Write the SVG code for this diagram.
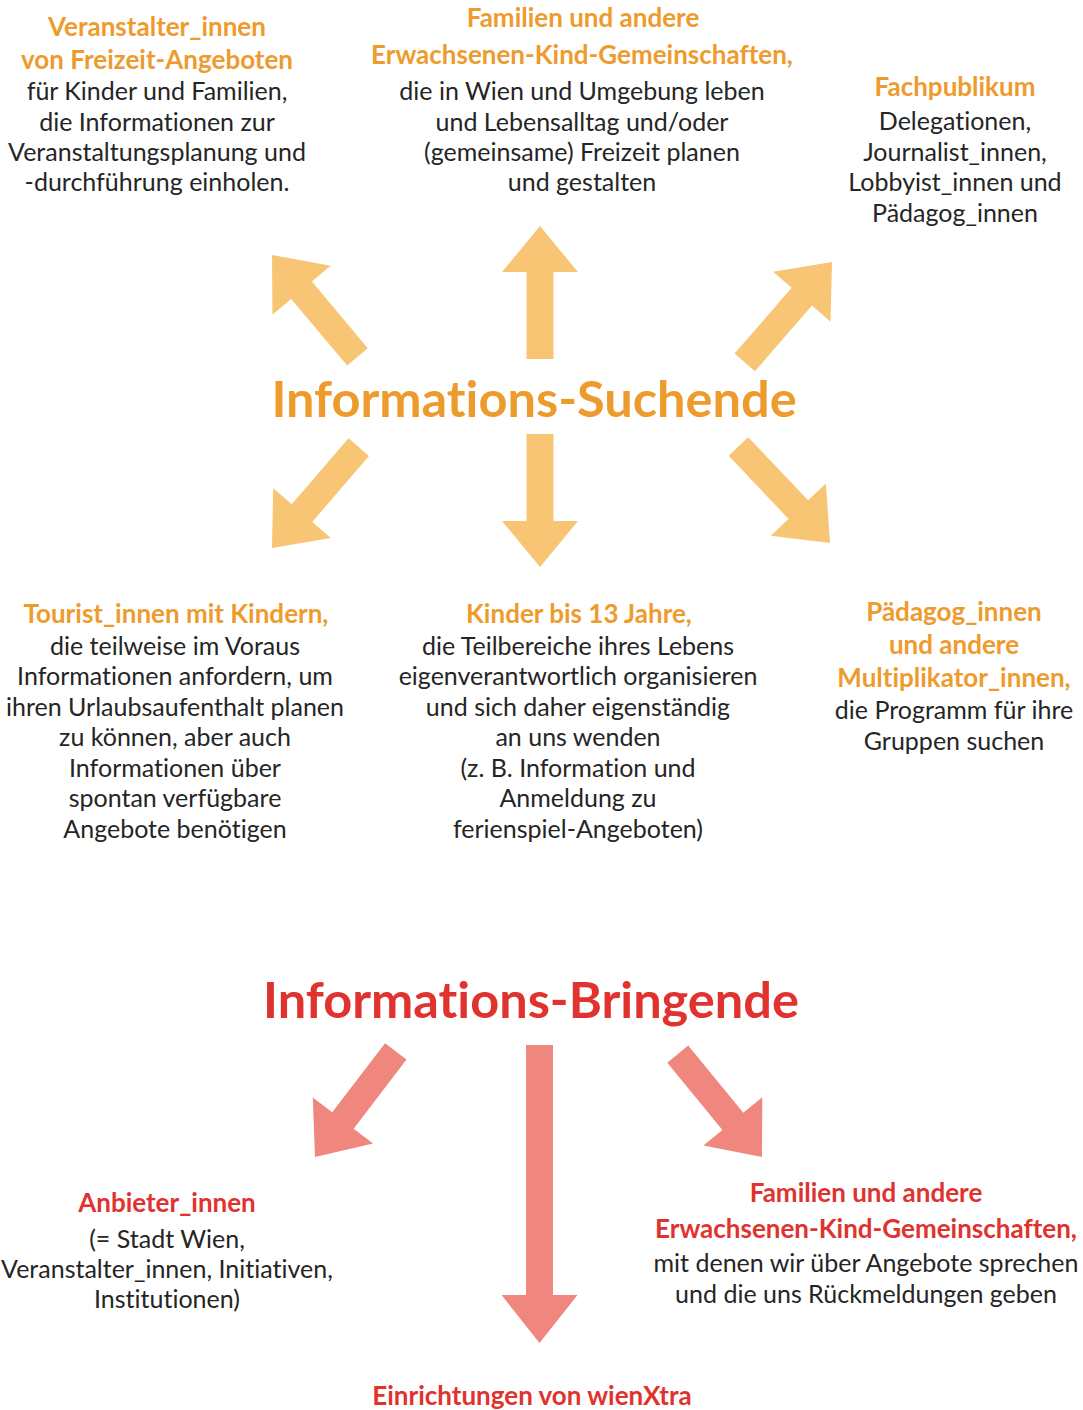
<svg xmlns="http://www.w3.org/2000/svg" xmlns:xlink="http://www.w3.org/1999/xlink" width="1083" height="1410" viewBox="0 0 1083 1410">
  <style>
    text { font-family: Lato, "Noto Sans", "Liberation Sans", sans-serif; text-anchor: middle; font-variant-ligatures: none; font-feature-settings: "liga" 0, "clig" 0; }
    .h { font-weight: bold; font-size: 26px; fill: #EE9B2E; }
    .hr { font-weight: bold; font-size: 26px; fill: #E0322E; }
    .b { font-size: 25px; fill: #252525; }
    .t { font-weight: bold; font-size: 50.5px; fill: #EE9B2E; }
    .tr { font-weight: bold; font-size: 50.5px; fill: #E0322E; }
    .ao { fill: #F8C575; }
    .ar { fill: #F0877F; }
  </style>
  <defs>
    <path id="arr" d="M0,0 L38,46 L13.5,46 L13.5,133 L-13.5,133 L-13.5,46 L-38,46 Z"/>
    <path id="arrLong" d="M0,0 L38,48 L13.5,48 L13.5,298 L-13.5,298 L-13.5,48 L-38,48 Z"/>
  </defs>
  <rect width="1083" height="1410" fill="#ffffff"/>

  <g id="connectors">
    <use xlink:href="#arr" class="ao" transform="translate(272,255) rotate(-40)"/>
    <use xlink:href="#arr" class="ao" transform="translate(540,226)"/>
    <use xlink:href="#arr" class="ao" transform="translate(832,262) rotate(41)"/>
    <use xlink:href="#arr" class="ao" transform="translate(272,548) rotate(-139.3)"/>
    <use xlink:href="#arr" class="ao" transform="translate(540,567) rotate(180)"/>
    <use xlink:href="#arr" class="ao" transform="translate(830,543) rotate(136.5)"/>
    <use xlink:href="#arr" class="ar" transform="translate(315,1157) rotate(-142.6)"/>
    <use xlink:href="#arrLong" class="ar" transform="translate(539.5,1343) rotate(180)"/>
    <use xlink:href="#arr" class="ar" transform="translate(762,1157) rotate(140.7)"/>
  </g>

  <g id="title-suchende">
    <text class="t" x="534" y="417">Informations-Suchende</text>
  </g>

  <g id="node-veranstalter">
    <text class="h" x="157" y="36">Veranstalter_innen</text>
    <text class="h" x="157" y="69">von Freizeit-Angeboten</text>
    <text class="b" x="157" y="100">für Kinder und Familien,</text>
    <text class="b" x="157" y="131">die Informationen zur</text>
    <text class="b" x="157" y="161">Veranstaltungsplanung und</text>
    <text class="b" x="157" y="191">-durchführung einholen.</text>
  </g>

  <g id="node-familien-top">
    <text class="h" x="583" y="27">Familien und andere</text>
    <text class="h" x="582" y="64">Erwachsenen-Kind-Gemeinschaften,</text>
    <text class="b" x="582" y="100">die in Wien und Umgebung leben</text>
    <text class="b" x="582" y="131">und Lebensalltag und/oder</text>
    <text class="b" x="582" y="161">(gemeinsame) Freizeit planen</text>
    <text class="b" x="582" y="191">und gestalten</text>
  </g>

  <g id="node-fachpublikum">
    <text class="h" x="955" y="96">Fachpublikum</text>
    <text class="b" x="955" y="130">Delegationen,</text>
    <text class="b" x="955" y="161">Journalist_innen,</text>
    <text class="b" x="955" y="191">Lobbyist_innen und</text>
    <text class="b" x="955" y="222">Pädagog_innen</text>
  </g>

  <g id="node-touristen">
    <text class="h" x="176" y="623">Tourist_innen mit Kindern,</text>
    <text class="b" x="175" y="655">die teilweise im Voraus</text>
    <text class="b" x="175" y="685">Informationen anfordern, um</text>
    <text class="b" x="175" y="716">ihren Urlaubsaufenthalt planen</text>
    <text class="b" x="175" y="746">zu können, aber auch</text>
    <text class="b" x="175" y="777">Informationen über</text>
    <text class="b" x="175" y="807">spontan verfügbare</text>
    <text class="b" x="175" y="838">Angebote benötigen</text>
  </g>

  <g id="node-kinder">
    <text class="h" x="579" y="623">Kinder bis 13 Jahre,</text>
    <text class="b" x="578" y="655">die Teilbereiche ihres Lebens</text>
    <text class="b" x="578" y="685">eigenverantwortlich organisieren</text>
    <text class="b" x="578" y="716">und sich daher eigenständig</text>
    <text class="b" x="578" y="746">an uns wenden</text>
    <text class="b" x="578" y="777">(z. B. Information und</text>
    <text class="b" x="578" y="807">Anmeldung zu</text>
    <text class="b" x="578" y="838">ferienspiel-Angeboten)</text>
  </g>

  <g id="node-paedagogen">
    <text class="h" x="954" y="621">Pädagog_innen</text>
    <text class="h" x="954" y="654">und andere</text>
    <text class="h" x="954" y="687">Multiplikator_innen,</text>
    <text class="b" x="954" y="719">die Programm für ihre</text>
    <text class="b" x="954" y="750">Gruppen suchen</text>
  </g>

  <g id="title-bringende">
    <text class="tr" x="531" y="1018">Informations-Bringende</text>
  </g>

  <g id="node-anbieter">
    <text class="hr" x="167" y="1212">Anbieter_innen</text>
    <text class="b" x="167" y="1248">(= Stadt Wien,</text>
    <text class="b" x="167" y="1278">Veranstalter_innen, Initiativen,</text>
    <text class="b" x="167" y="1308">Institutionen)</text>
  </g>

  <g id="node-familien-bottom">
    <text class="hr" x="866" y="1202">Familien und andere</text>
    <text class="hr" x="866" y="1238">Erwachsenen-Kind-Gemeinschaften,</text>
    <text class="b" x="866" y="1272">mit denen wir über Angebote sprechen</text>
    <text class="b" x="866" y="1303">und die uns Rückmeldungen geben</text>
  </g>

  <g id="node-einrichtungen">
    <text class="hr" x="532" y="1405">Einrichtungen von wienXtra</text>
  </g>
</svg>
